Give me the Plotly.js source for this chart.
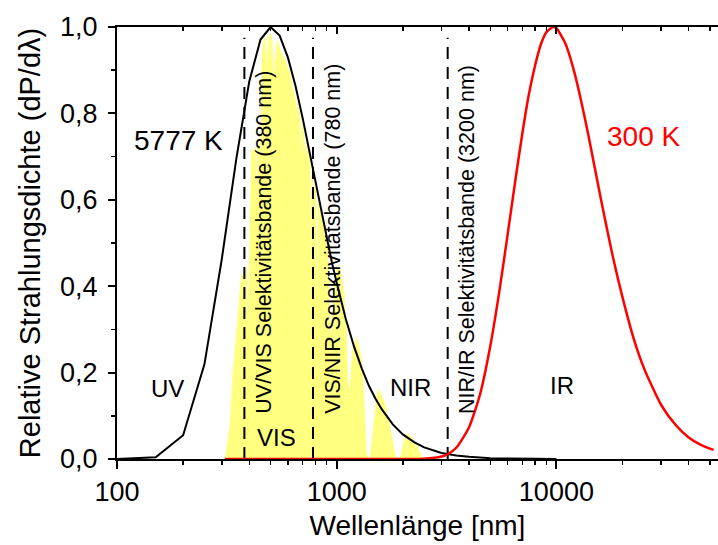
<!DOCTYPE html>
<html>
<head>
<meta charset="utf-8">
<script src="https://cdn.plot.ly/plotly-3.0.1.min.js"></script>
<style>
  html, body { margin: 0; padding: 0; background: #ffffff; }
  #chart { width: 718px; height: 545px; }
</style>
</head>
<body>
<div id="chart"></div>
<script>
// Measured solar spectrum, normalised to its maximum (wavelength in nm)
const sunWavelength = [300, 309, 318, 326, 336, 346, 355, 368, 380, 390, 394, 398, 402, 408, 420, 428, 431, 434, 445, 452, 456, 463, 472, 478, 482, 486, 490, 500, 510, 517, 522, 527, 532, 545, 560, 575, 590, 605, 612, 625, 640, 652, 656, 660, 680, 687, 692, 710, 720, 730, 745, 758, 762, 767, 790, 808, 815, 822, 850, 880, 900, 915, 930, 945, 960, 975, 1000, 1030, 1060, 1085, 1110, 1130, 1146, 1160, 1180, 1210, 1230, 1255, 1280, 1310, 1330, 1350, 1370, 1413, 1440, 1480, 1520, 1545, 1580, 1630, 1680, 1730, 1780, 1820, 1860, 1935, 1980, 2030, 2080, 2150, 2230, 2300, 2380, 2440, 2472];
const sunRelative   = [0, 0, 0.04, 0.083, 0.2, 0.275, 0.352, 0.43, 0.42, 0.45, 0.32, 0.46, 0.6, 0.71, 0.72, 0.72, 0.6, 0.72, 0.73, 0.75, 0.94, 0.97, 0.985, 0.92, 0.985, 0.9, 0.98, 0.985, 0.97, 0.87, 0.97, 0.9, 0.97, 0.96, 0.94, 0.93, 0.92, 0.9, 0.9, 0.87, 0.85, 0.83, 0.78, 0.83, 0.8, 0.7, 0.79, 0.76, 0.7, 0.74, 0.71, 0.68, 0.45, 0.66, 0.63, 0.62, 0.36, 0.6, 0.58, 0.55, 0.52, 0.48, 0.36, 0.28, 0.36, 0.42, 0.44, 0.45, 0.42, 0.38, 0.3, 0.18, 0.16, 0.2, 0.26, 0.27, 0.285, 0.27, 0.25, 0.22, 0.16, 0.08, 0.01, 0, 0.04, 0.11, 0.15, 0.163, 0.155, 0.14, 0.12, 0.09, 0.06, 0.03, 0.005, 0, 0.02, 0.045, 0.059, 0.055, 0.045, 0.035, 0.018, 0.005, 0];

// Black body at 5777 K, relative spectral density
const sunBBWavelength = [100, 150, 200, 250, 300, 350, 400, 450, 500, 550, 600, 650, 700, 750, 800, 850, 900, 950, 1000, 1100, 1200, 1300, 1400, 1500, 1600, 1800, 2000, 2250, 2500, 3000, 3500, 4000, 5000, 6000, 8000, 10000];
const sunBBRelative   = [0, 0.004, 0.055, 0.219, 0.463, 0.698, 0.874, 0.971, 1.0, 0.98, 0.929, 0.863, 0.789, 0.713, 0.642, 0.574, 0.512, 0.456, 0.408, 0.324, 0.26, 0.21, 0.17, 0.14, 0.116, 0.08, 0.057, 0.039, 0.027, 0.014, 0.008, 0.005, 0.002, 0.001, 0.0004, 0.0002];

// Black body at 300 K, relative spectral density
const earthBBWavelength = [310, 1000, 2000, 2500, 3000, 3200, 3500, 4000, 4500, 5000, 5500, 6000, 6500, 7000, 7500, 8000, 8500, 9000, 9660, 10000, 11000, 12000, 13000, 14000, 16000, 18000, 20000, 22500, 25000, 30000, 35000, 40000, 45000, 50000, 52000];
const earthBBRelative   = [0, 0, 0, 0.0006, 0.0056, 0.011, 0.026, 0.073, 0.151, 0.261, 0.388, 0.52, 0.644, 0.754, 0.845, 0.911, 0.96, 0.988, 1.0, 0.997, 0.961, 0.9, 0.826, 0.748, 0.598, 0.472, 0.374, 0.278, 0.211, 0.125, 0.078, 0.05, 0.034, 0.024, 0.021];

// Band edges and their captions
const bandEdges  = [380, 780, 3200];
const bandLabels = ['UV/VIS Selektivitätsbande (380 nm)', 'VIS/NIR Selektivitätsbande (780 nm)', 'NIR/IR Selektivitätsbande (3200 nm)'];
const regionNames = ['UV', 'VIS', 'NIR', 'IR'];
const regionCenters = [169, 532, 2160, 10600];
const regionHeights = [0.164, 0.049, 0.165, 0.169];

// Axis ticks
const xTickVals  = [100, 1000, 10000];
const xTickText  = ['100', '1000', '10000'];
const xMinorVals = [200, 300, 400, 500, 600, 700, 800, 900, 2000, 3000, 4000, 5000, 6000, 7000, 8000, 9000, 20000, 30000, 40000, 50000];
const yTickVals  = [0, 0.2, 0.4, 0.6, 0.8, 1.0];
const yTickText  = ['0,0', '0,2', '0,4', '0,6', '0,8', '1,0'];
const yMinorVals = [0.1, 0.3, 0.5, 0.7, 0.9];

const FONT = 'Liberation Sans, Arial, Helvetica, sans-serif';
const X_RANGE = [2, 4.7356];

// dashed band edges as one broken line
const edgeX = [], edgeY = [];
bandEdges.forEach(function (w) { edgeX.push(w, w, null); edgeY.push(0, 0.975, null); });

const traces = [
  {
    x: sunWavelength, y: sunRelative, type: 'scatter', mode: 'lines',
    fill: 'tozeroy', fillcolor: '#ffff80', line: { width: 0, color: '#ffff80' },
    hoverinfo: 'skip', showlegend: false
  },
  {
    x: sunBBWavelength, y: sunBBRelative, type: 'scatter', mode: 'lines',
    line: { color: '#000000', width: 2 }, showlegend: false
  },
  {
    x: earthBBWavelength, y: earthBBRelative, type: 'scatter', mode: 'lines',
    xaxis: 'x2', yaxis: 'y',
    line: { color: '#ff0000', width: 2.5, shape: 'spline', smoothing: 0.6 }, showlegend: false
  },
  {
    x: edgeX, y: edgeY, type: 'scatter', mode: 'lines',
    line: { color: '#000000', width: 2, dash: '12px,8px' }, showlegend: false, hoverinfo: 'skip'
  }
];

const annotations = [];
bandEdges.forEach(function (w, i) {
  annotations.push({
    x: Math.log10(w), y: 0.1, xref: 'x', yref: 'y',
    xanchor: 'center', yanchor: 'bottom', xshift: 20,
    text: bandLabels[i], textangle: -90, showarrow: false,
    font: { family: FONT, size: 21.5, color: '#000000' }
  });
});
regionNames.forEach(function (name, i) {
  annotations.push({
    x: Math.log10(regionCenters[i]), y: regionHeights[i], xref: 'x', yref: 'y',
    xanchor: 'center', yanchor: 'middle', text: name, showarrow: false,
    font: { family: FONT, size: 24, color: '#000000' }
  });
});
annotations.push({
  x: Math.log10(191), y: 0.738, xref: 'x', yref: 'y', xanchor: 'center', yanchor: 'middle',
  text: '5777 K', showarrow: false, font: { family: FONT, size: 28, color: '#000000' }
});
annotations.push({
  x: Math.log10(24830), y: 0.747, xref: 'x', yref: 'y', xanchor: 'center', yanchor: 'middle',
  text: '300 K', showarrow: false, font: { family: FONT, size: 28, color: '#ff0000' }
});

const layout = {
  width: 718, height: 545,
  margin: { l: 117, r: 0, t: 27, b: 86 },
  paper_bgcolor: '#ffffff', plot_bgcolor: '#ffffff',
  font: { family: FONT, color: '#000000' },
  showlegend: false,
  xaxis: {
    type: 'log', range: X_RANGE, autorange: false,
    tickmode: 'array', tickvals: xTickVals, ticktext: xTickText,
    ticks: 'outside', ticklen: 8, tickwidth: 2, tickcolor: '#000000',
    showline: true, linewidth: 2, linecolor: '#000000',
    showgrid: false, zeroline: false,
    tickfont: { family: FONT, size: 27, color: '#000000' },
    minor: { tickmode: 'array', tickvals: xMinorVals, ticks: 'outside', ticklen: 4, tickwidth: 1.5, tickcolor: '#000000', showgrid: false },
    title: { text: 'Wellenlänge [nm]', font: { family: FONT, size: 28, color: '#000000' }, standoff: 9 }
  },
  xaxis2: {
    type: 'log', range: X_RANGE, autorange: false,
    overlaying: 'x', side: 'top', anchor: 'y',
    tickmode: 'array', tickvals: xTickVals,
    ticks: 'inside', ticklen: 7, tickwidth: 2, tickcolor: '#000000',
    showticklabels: false,
    showline: true, linewidth: 2, linecolor: '#000000',
    showgrid: false, zeroline: false,
    minor: { tickmode: 'array', tickvals: xMinorVals, ticks: 'inside', ticklen: 4, tickwidth: 1.5, tickcolor: '#000000', showgrid: false }
  },
  yaxis: {
    range: [0, 1], autorange: false,
    tickmode: 'array', tickvals: yTickVals, ticktext: yTickText,
    ticks: 'outside', ticklen: 7, tickwidth: 2, tickcolor: '#000000',
    ticklabelstandoff: 5,
    showline: true, linewidth: 2, linecolor: '#000000',
    showgrid: false, zeroline: false,
    tickfont: { family: FONT, size: 27, color: '#000000' },
    minor: { tickmode: 'array', tickvals: yMinorVals, ticks: 'outside', ticklen: 4, tickwidth: 1.5, tickcolor: '#000000', showgrid: false },
    title: { text: 'Relative Strahlungsdichte (dP/dλ)', font: { family: FONT, size: 29, color: '#000000' }, standoff: 11 }
  },
  annotations: annotations
};

Plotly.newPlot('chart', traces, layout, { displayModeBar: false, staticPlot: true });
</script>
</body>
</html>
